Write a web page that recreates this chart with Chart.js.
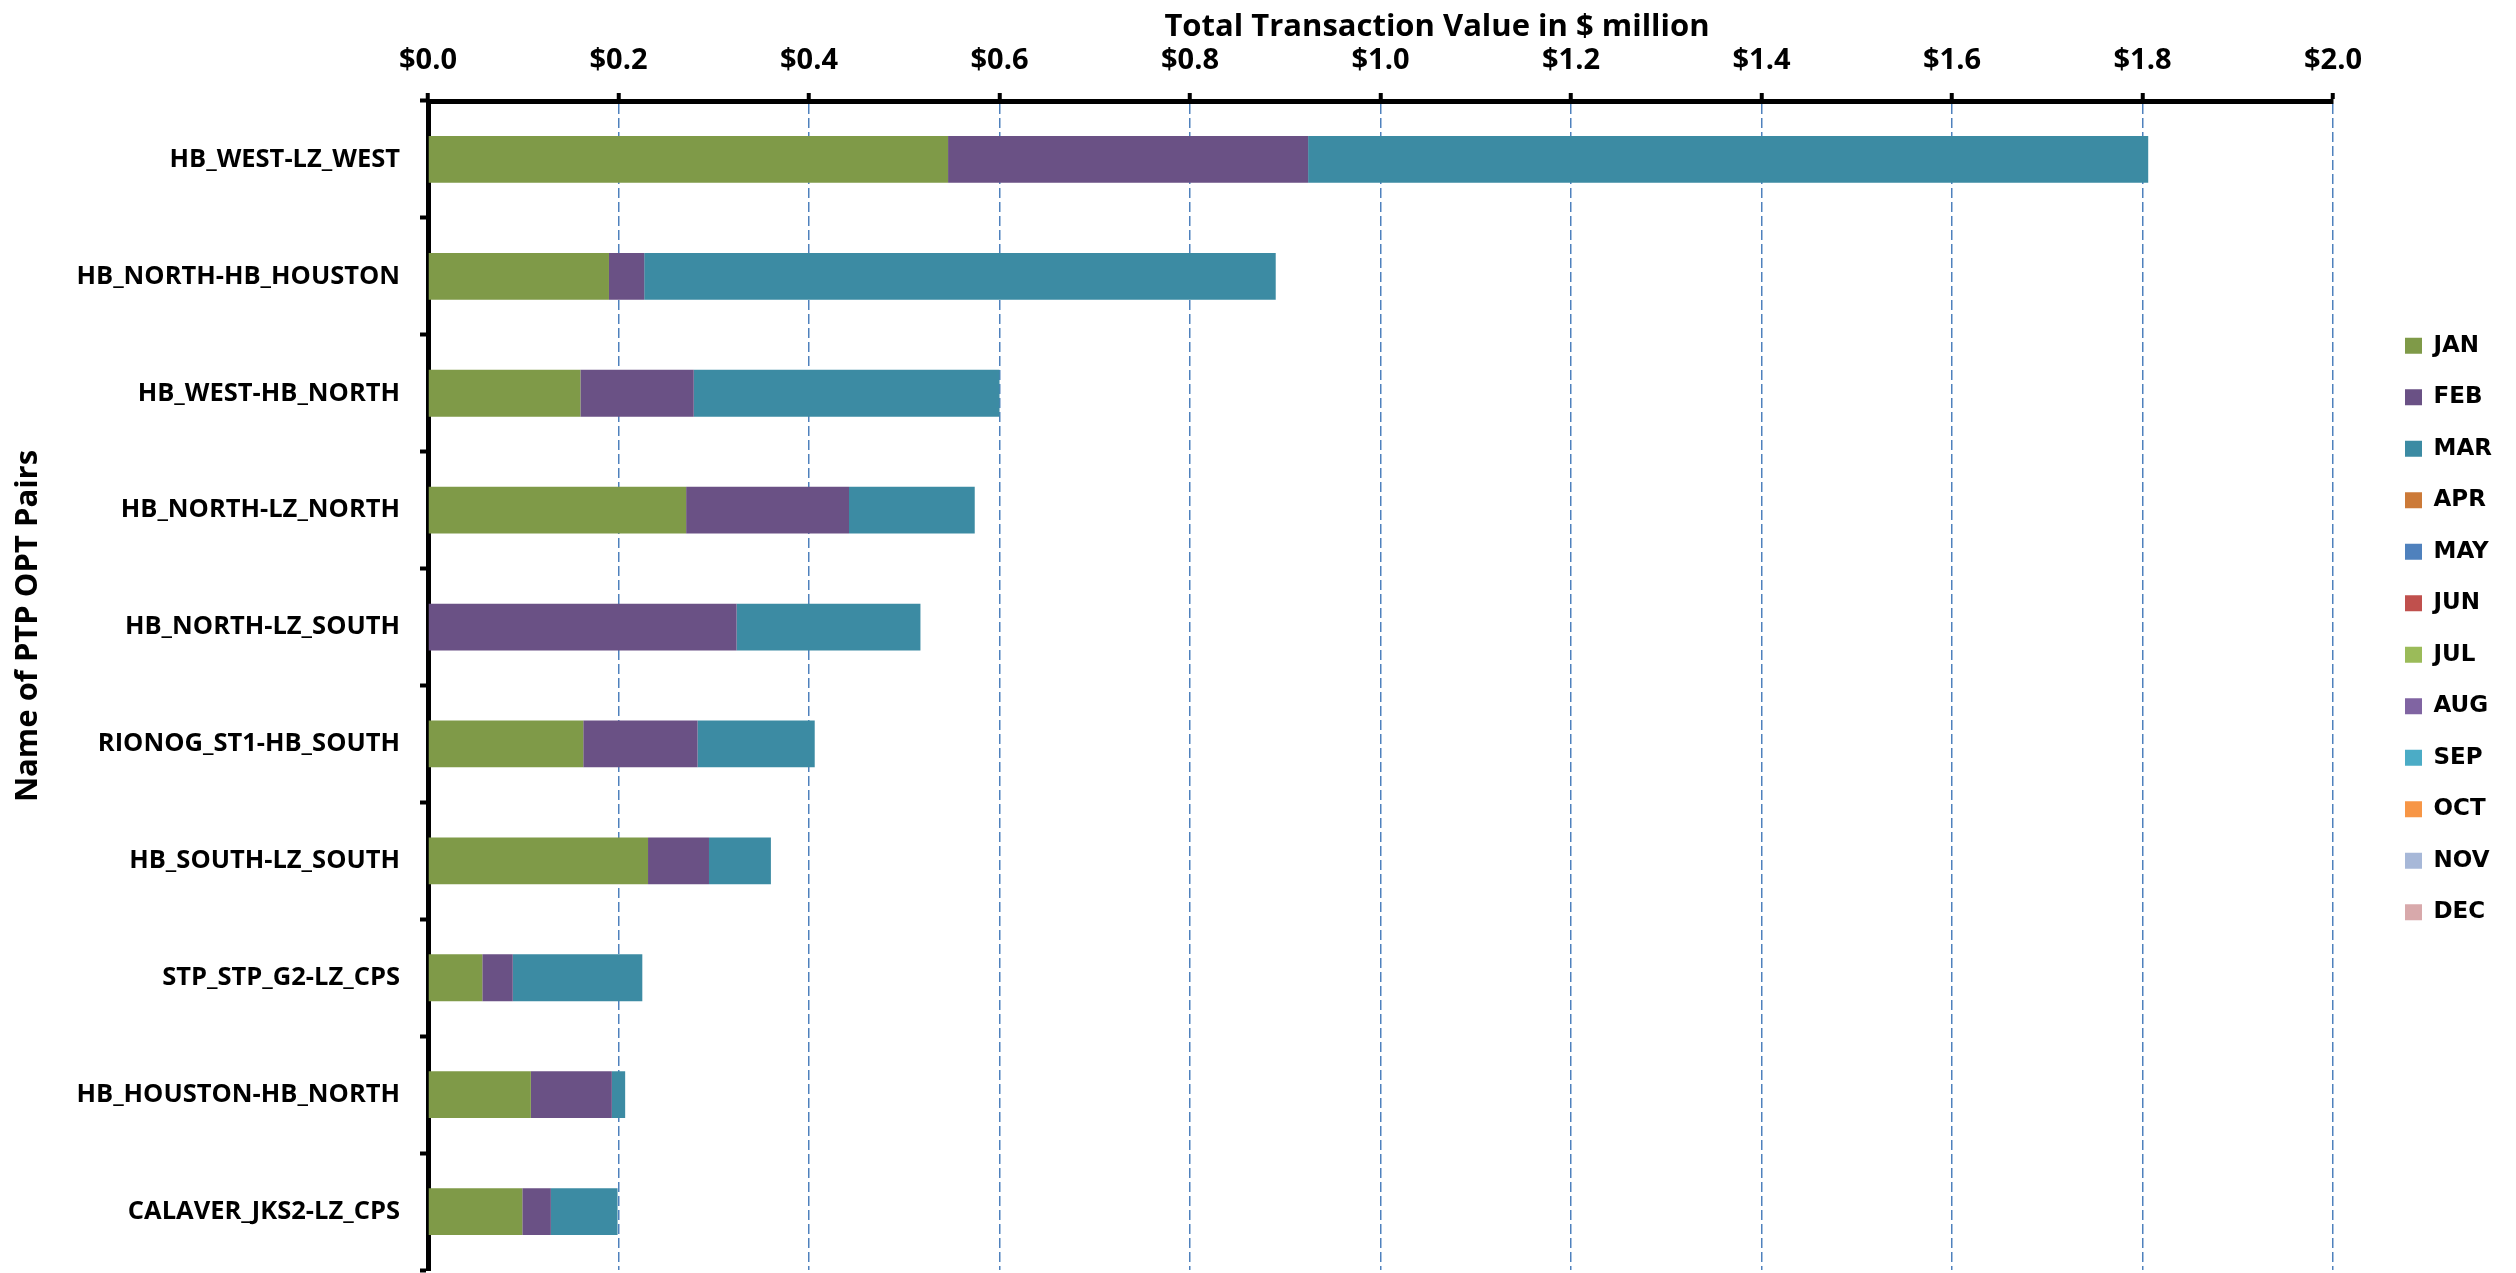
<!DOCTYPE html>
<html>
<head>
<meta charset="utf-8">
<script src="https://cdn.jsdelivr.net/npm/chart.js@4.4.1/dist/chart.umd.min.js"></script>
<style>
  html, body { margin: 0; padding: 0; background: #fff; }
  canvas { display: block; }
</style>
</head>
<body>
<canvas id="chart" width="2516" height="1273"></canvas>
<script>
// PTP obligation pairs, top to bottom
const pairs = [
  'HB_WEST-LZ_WEST',
  'HB_NORTH-HB_HOUSTON',
  'HB_WEST-HB_NORTH',
  'HB_NORTH-LZ_NORTH',
  'HB_NORTH-LZ_SOUTH',
  'RIONOG_ST1-HB_SOUTH',
  'HB_SOUTH-LZ_SOUTH',
  'STP_STP_G2-LZ_CPS',
  'HB_HOUSTON-HB_NORTH',
  'CALAVER_JKS2-LZ_CPS'
];

const months = ['JAN', 'FEB', 'MAR', 'APR', 'MAY', 'JUN', 'JUL', 'AUG', 'SEP', 'OCT', 'NOV', 'DEC'];

// Monthly transaction value, $ million
const jan = [0.546, 0.190, 0.160, 0.271, 0.000, 0.163, 0.231, 0.057, 0.108, 0.099];
const feb = [0.378, 0.037, 0.119, 0.171, 0.324, 0.120, 0.064, 0.032, 0.085, 0.030];
const mar = [0.882, 0.663, 0.321, 0.132, 0.193, 0.123, 0.065, 0.136, 0.014, 0.070];
// No activity recorded yet for the rest of the year
const apr = [], may = [], jun = [], jul = [], aug = [], sep = [], oct = [], nov = [], dec = [];

const monthData = [jan, feb, mar, apr, may, jun, jul, aug, sep, oct, nov, dec];

// Value axis range, $ million
const valueMin = 0;
const valueMax = 2.0;
const valueStep = 0.2;

const xTitle = 'Total Transaction Value in $ million';
const yTitle = 'Name of PTP OPT Pairs';

const monthColors = [
  '#7F9A48', '#6A5185', '#3C8BA3', '#CC7A38', '#4F81BD', '#C0504D',
  '#9BBB59', '#8064A2', '#4BACC6', '#F79646', '#A7B8D8', '#D8A9AB'
];

const labelFont = { family: '"Open Sans", sans-serif', weight: 'bold', size: 25.5 };
const tickFont = { family: '"Open Sans", sans-serif', weight: 'bold', size: 29 };
const legendFont = { family: '"DejaVu Sans", sans-serif', weight: 'bold', size: 23 };

// Axis titles placed freely around the plot
const axisTitles = {
  id: 'axisTitles',
  afterDraw(chart) {
    const c = chart.ctx;
    c.save();
    c.fillStyle = '#000';
    c.font = 'bold 31px "Open Sans", sans-serif';
    c.textAlign = 'center';
    c.textBaseline = 'middle';
    c.fillText(xTitle, 1437, 27);
    c.translate(28, 626);
    c.rotate(-Math.PI / 2);
    c.fillText(yTitle, 0, 0);
    c.restore();
  }
};

// Nudge the legend column away from the plot edge
const legendOffset = {
  id: 'legendOffset',
  afterLayout(chart) {
    const lg = chart.legend;
    if (!lg) return;
    const dx = 43.5, dy = -6;
    lg.left += dx; lg.right += dx;
    lg.top += dy; lg.bottom += dy;
  }
};

new Chart(document.getElementById('chart'), {
  type: 'bar',
  data: {
    labels: pairs,
    datasets: months.map((m, i) => ({
      label: m,
      data: monthData[i],
      backgroundColor: monthColors[i],
      borderWidth: 0,
      categoryPercentage: 0.5,
      barPercentage: 0.8
    }))
  },
  options: {
    indexAxis: 'y',
    responsive: false,
    animation: false,
    devicePixelRatio: 1,
    layout: { padding: { top: 0, left: 0, right: 0, bottom: 3 } },
    scales: {
      x: {
        position: 'top',
        stacked: true,
        min: valueMin,
        max: valueMax,
        ticks: {
          stepSize: valueStep,
          callback: v => '$' + Number(v).toFixed(1),
          color: '#000',
          font: tickFont,
          padding: 15,
          maxRotation: 0,
          autoSkip: false
        },
        grid: {
          color: '#4F81BD',
          lineWidth: 1.5,
          drawTicks: true,
          tickLength: 8,
          tickColor: '#000',
          tickWidth: 4,
          tickBorderDash: []
        },
        border: { display: true, color: '#000', width: 5, dash: [10, 4] },
        afterFit(scale) {
          scale.height = 101;
          scale.paddingRight = 183;
        }
      },
      y: {
        stacked: true,
        z: 1,
        ticks: {
          color: '#000',
          font: labelFont,
          padding: 20,
          autoSkip: false
        },
        grid: {
          drawOnChartArea: false,
          drawTicks: true,
          tickLength: 8,
          tickColor: '#000',
          tickWidth: 4
        },
        border: { display: true, color: '#000', width: 5 },
        afterFit(scale) {
          scale.width = 428;
          scale.paddingTop = 0;
          scale.paddingBottom = 0;
        }
      }
    },
    plugins: {
      legend: {
        position: 'right',
        align: 'center',
        labels: {
          boxWidth: 17,
          boxHeight: 16,
          padding: 28.5,
          color: '#000',
          font: legendFont
        }
      },
      tooltip: { enabled: false },
      title: { display: false }
    }
  },
  plugins: [axisTitles, legendOffset]
});
</script>
</body>
</html>
